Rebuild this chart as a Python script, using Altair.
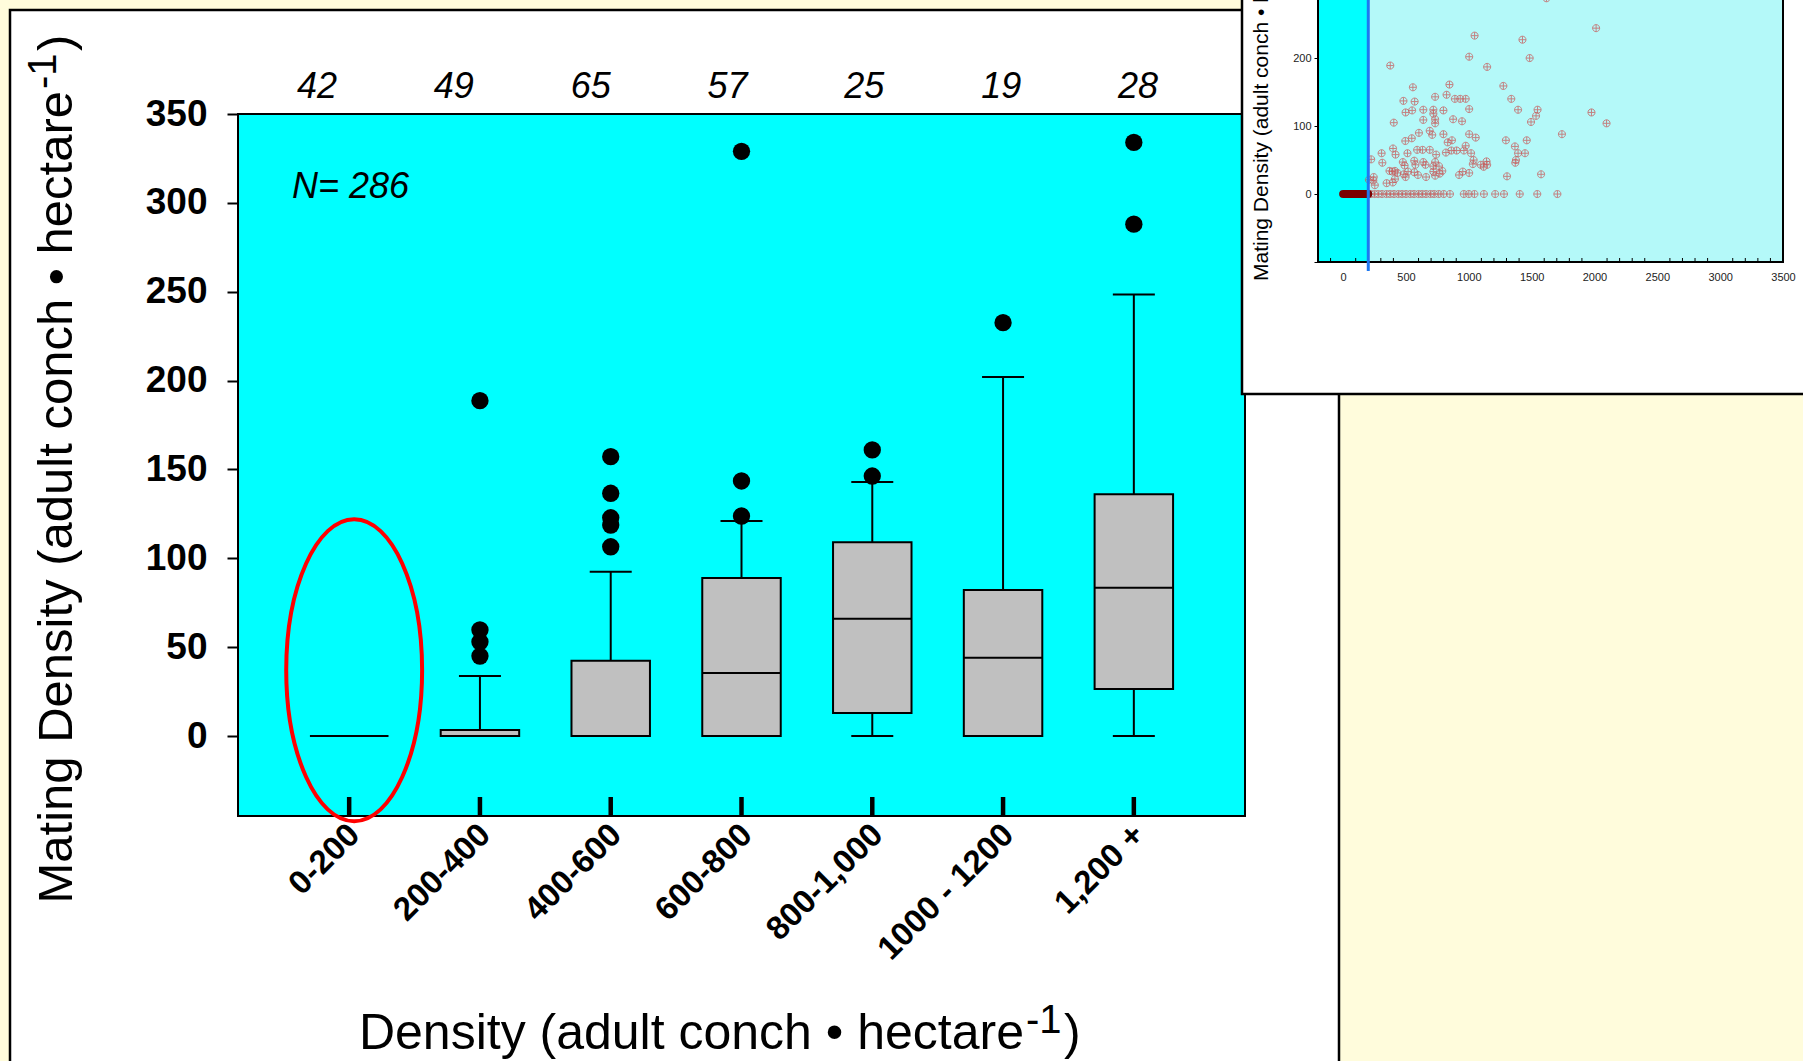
import altair as alt
import pandas as pd

# ---------------- data ----------------
categories = ["0-200", "200-400", "400-600", "600-800", "800-1,000", "1000 - 1200", "1,200 +"]
counts = [42, 49, 65, 57, 25, 19, 28]
q1 = [0, 0, 0, 0, 13, 0, 26.5]
medians = [0, 0, 0, 35.5, 66, 44, 83.5]
q3 = [0, 3.4, 42.4, 88.9, 109, 82.2, 136]
whisker_low = [0, 0, 0, 0, 0, 0, 0]
whisker_high = [0, 33.8, 92.5, 121, 143, 202, 248.5]

outlier_cat = (["200-400"] * 4 + ["400-600"] * 5 + ["600-800"] * 3
               + ["800-1,000"] * 2 + ["1000 - 1200"] + ["1,200 +"] * 2)
outlier_val = [45, 53, 59.7, 188.7,
               106.5, 118.7, 122.8, 136.6, 157.2,
               123.8, 143.5, 329,
               146.3, 161,
               232.6,
               288, 334]

total_n = 286
y_tick_values = [0, 50, 100, 150, 200, 250, 300, 350]
highlight_cat = ["0-200"]
highlight_val = [37]

# inset scatter (density vs mating density)
inset_density = [1618, 2013, 1046, 1427, 1003, 1484, 375, 1146, 846, 1275, 555, 823, 732, 480, 569,
                 889, 932, 975, 1338, 497, 549, 638, 718, 798, 718, 1003, 1392, 1547, 1976, 1535,
                 403, 638, 732, 732, 875, 946, 1495, 2096, 603, 689, 709, 798, 1003, 1741, 495,
                 546, 832, 866, 1055, 1295, 1461, 975, 1367, 397, 589, 632, 689, 818, 861, 903,
                 961, 1018, 306, 417, 512, 740, 1392, 1447, 223, 312, 475, 489, 566, 575, 638,
                 655, 732, 718, 763, 1038, 1032, 1141, 1146, 1118, 1095, 1375, 1370, 369, 392,
                 412, 432, 483, 497, 517, 566, 595, 660, 718, 732, 769, 789, 923, 952, 1003,
                 1304, 1575, 243, 240, 346, 395, 412, 252, 205,
                 220, 250, 280, 310, 345, 375, 405, 440, 470, 500, 535, 565, 600, 630, 660,
                 695, 725, 760, 800, 850, 960, 1000, 1045, 1120, 1210, 1280, 1405, 1545, 1705]
inset_mating = [288, 244, 233, 227, 202, 200, 189, 187, 161, 159, 157, 146, 143, 137, 136,
                140, 140, 140, 140, 120, 123, 124, 124, 123, 118, 125, 124, 124, 120, 115,
                105, 109, 110, 104, 110, 107, 106, 104, 90, 93, 87, 88, 88, 88, 78,
                82, 76, 79, 83, 79, 79, 71, 70, 67, 65, 65, 65, 61, 64, 64,
                64, 60, 60, 58, 60, 58, 60, 60, 51, 46, 47, 42, 49, 43, 47,
                43, 47, 41, 41, 50, 44, 48, 43, 40, 43, 50, 46, 34, 33,
                34, 31, 29, 25, 33, 32, 28, 25, 33, 27, 30, 34, 28, 33, 31,
                26, 29, 25, 20, 16, 17, 22, 13, 21,
                0, 0, 0, 0, 0, 0, 0, 0, 0, 0, 0, 0, 0, 0, 0,
                0, 0, 0, 0, 0, 0, 0, 0, 0, 0, 0, 0, 0, 0]
low_density_range = [0, 200]
threshold = [200]
inset_x_domain = [-200, 3500]
inset_y_domain = [-100, 350]
inset_zone = ["below", "above"]
inset_zone_start = [-200, 200]
inset_zone_end = [200, 3500]
inset_x_ticks = [0, 500, 1000, 1500, 2000, 2500, 3000, 3500]
inset_minor_ticks = [-100, 100, 200, 300, 400, 600, 700, 800, 900, 1100, 1200, 1300, 1400,
                     1600, 1700, 1800, 1900, 2100, 2200, 2300, 2400, 2600, 2700, 2800, 2900,
                     3100, 3200, 3300, 3400]
inset_y_ticks = [-100, 0, 100, 200]

# ---------------- layout / style ----------------
W, H = 1007, 702
FONT = "Liberation Sans"
BG = "#FFFCDC"
ELLIPSE = ("M0,-1C0.2485,-1,0.45,-0.5523,0.45,0C0.45,0.5523,0.2485,1,0,1"
           "C-0.2485,1,-0.45,0.5523,-0.45,0C-0.45,-0.5523,-0.2485,-1,0,-1Z")
PLUSCIRCLE = ("M0,-1C0.5523,-1,1,-0.5523,1,0C1,0.5523,0.5523,1,0,1C-0.5523,1,-1,0.5523,-1,0"
              "C-1,-0.5523,-0.5523,-1,0,-1ZM-1,0L1,0M0,-1L0,1")

box_df = pd.DataFrame(dict(cat=categories, n=counts, q1=q1, med=medians, q3=q3,
                           lo=whisker_low, hi=whisker_high))
out_df = pd.DataFrame(dict(cat=outlier_cat, v=outlier_val))
hl_df = pd.DataFrame(dict(cat=highlight_cat, v=highlight_val))
one = pd.DataFrame({"k": [0]})

x_scale = alt.Scale(domain=categories, paddingInner=0.4, paddingOuter=0.55)
x_axis = alt.Axis(title=None, orient="bottom", labelAngle=-45, labelFont=FONT, labelFontSize=33,
                  labelFontWeight="bold", labelColor="black", ticks=False, tickSize=0,
                  domain=False, labelPadding=2, labelOffset=-6, grid=False, zindex=1)
y_scale = alt.Scale(domain=[-45, 350], nice=False, zero=False)
y_axis = alt.Axis(title=None, orient="left", values=y_tick_values, labelFont=FONT, labelFontSize=37,
                  labelFontWeight="bold", labelColor="black", tickSize=11, tickColor="black",
                  tickWidth=2, labelPadding=20, domain=False, grid=False, zindex=1)


def MX():
    return alt.X("cat:N", sort=categories, scale=x_scale, axis=x_axis)


def MY(f):
    return alt.Y(f"{f}:Q", scale=y_scale, axis=y_axis)


cyan = alt.Chart(one).mark_rect(fill="#00FFFF", stroke="black", strokeWidth=2).encode(
    x=alt.value(0), x2=alt.value(W), y=alt.value(0), y2=alt.value(H))
boxes = alt.Chart(box_df).mark_bar(fill="#C0C0C0", stroke="black", strokeWidth=2).encode(
    x=MX(), y=MY("q1"), y2="q3")
up_wh = alt.Chart(box_df).mark_rule(color="black", strokeWidth=2).encode(x=MX(), y=MY("q3"), y2="hi")
lo_wh = alt.Chart(box_df).mark_rule(color="black", strokeWidth=2).encode(x=MX(), y=MY("lo"), y2="q1")
cap_hi = alt.Chart(box_df).mark_tick(color="black", size=42, thickness=2, opacity=1).encode(x=MX(), y=MY("hi"))
cap_lo = alt.Chart(box_df).mark_tick(color="black", size=42, thickness=2, opacity=1).encode(x=MX(), y=MY("lo"))
med = alt.Chart(box_df).mark_tick(color="black", size=78, thickness=2, opacity=1).encode(x=MX(), y=MY("med"))
outl = alt.Chart(out_df).mark_circle(size=300, color="black", opacity=1).encode(x=MX(), y=MY("v"))
inner_ticks = alt.Chart(box_df).mark_rule(color="black", strokeWidth=4.5).encode(
    x=MX(), y=alt.value(H - 19), y2=alt.value(H))
n_txt = alt.Chart(one).mark_text(text=f"N= {total_n}", font=FONT, fontSize=36, fontStyle="italic",
                                 align="left", baseline="alphabetic", color="black").encode(
    x=alt.value(54), y=alt.value(84))
ellipse = alt.Chart(hl_df).mark_point(shape=ELLIPSE, size=91204, filled=False, color="red",
                                      strokeWidth=4, opacity=1, xOffset=5).encode(x=MX(), y=MY("v"))

main = alt.layer(cyan, boxes, up_wh, lo_wh, cap_hi, cap_lo, med, outl, inner_ticks, n_txt, ellipse)

# sample-size labels above the plot (their own point scale)
count_txt = alt.Chart(box_df).mark_text(font=FONT, fontSize=36, fontStyle="italic", color="black",
                                         baseline="alphabetic").encode(
    x=alt.X("cat:N", sort=categories,
            scale=alt.Scale(type="point", domain=categories, range=[79, 900], padding=0),
            axis=None),
    y=alt.value(-16), text="n:Q")


# ---------------- titles ----------------
def txt(s, x, y, size, align, angle=0):
    return alt.Chart(one).mark_text(text=s, font=FONT, fontSize=size, align=align,
                                    baseline="alphabetic", angle=angle, color="black").encode(
        x=alt.value(x), y=alt.value(y))


xt_main = txt("Density (adult conch \u2022 hectare", 786, 935, 50, "right")
xt_sup = txt("-1", 788, 919, 40, "left")
xt_par = txt(")", 826, 935, 50, "left")
yt_main = txt("Mating Density (adult conch \u2022 hectare", -166, -23, 49, "right", 270)
yt_sup = txt("-1", -182, -25, 40, "left", 270)
yt_par = txt(")", -166, -63, 49, "left", 270)

white_panel = alt.Chart(one).mark_rect(fill="white", stroke="black", strokeWidth=2.5).encode(
    x=alt.value(-228), x2=alt.value(1101), y=alt.value(-104), y2=alt.value(H + 300))
inset_box = alt.Chart(one).mark_rect(fill="white", stroke="black", strokeWidth=2.5).encode(
    x=alt.value(1004), x2=alt.value(1620), y=alt.value(-140), y2=alt.value(280))

# ---------------- inset ----------------
ix_scale = alt.Scale(domain=inset_x_domain, range=[1080, 1545], nice=False, zero=False)
iy_scale = alt.Scale(domain=inset_y_domain, range=[148, -157.9], nice=False, zero=False)
ix_axis = alt.Axis(title=None, orient="bottom", offset=-554, values=inset_x_ticks, format="d",
                   labelFont=FONT, labelFontSize=11, labelColor="#222222", ticks=False, tickSize=0,
                   labelPadding=9, labelFlush=False, domain=False, grid=False, zindex=1)
iy_axis = alt.Axis(title=None, orient="left", offset=-1080, values=inset_y_ticks, format="d",
                   labelExpr="datum.value < 0 ? '' : datum.label", labelFont=FONT, labelFontSize=11,
                   labelColor="#222222", tickSize=4, tickColor="black", tickWidth=1, labelPadding=3,
                   domain=False, grid=False, zindex=1)


def IX(f):
    return alt.X(f"{f}:Q", scale=ix_scale, axis=ix_axis)


def IY(f):
    return alt.Y(f"{f}:Q", scale=iy_scale, axis=iy_axis)


zone_df = pd.DataFrame(dict(s=inset_zone_start, e=inset_zone_end, zone=inset_zone,
                            b=[inset_y_domain[0]] * 2, t=[inset_y_domain[1]] * 2))
frame_df = pd.DataFrame(dict(s=[inset_x_domain[0]], e=[inset_x_domain[1]],
                             b=[inset_y_domain[0]], t=[inset_y_domain[1]]))
sc_df = pd.DataFrame(dict(d=inset_density, m=inset_mating))

zones = alt.Chart(zone_df).mark_rect().encode(
    x=IX("s"), x2="e", y=IY("b"), y2="t",
    color=alt.Color("zone:N", scale=alt.Scale(domain=inset_zone, range=["#00FFFF", "#B4F9F9"]),
                    legend=None))
minor = alt.Chart(pd.DataFrame({"t": inset_minor_ticks})).mark_rule(color="black", strokeWidth=1).encode(
    x=IX("t"), y=alt.value(148), y2=alt.value(144))
scatter = alt.Chart(sc_df).mark_point(shape=PLUSCIRCLE, size=50, filled=False, color="#C85A5A",
                                      strokeWidth=1, opacity=0.75).encode(x=IX("d"), y=IY("m"))
red_line = alt.Chart(pd.DataFrame(dict(a=[low_density_range[0]], b=[low_density_range[1]], m=[0]))).mark_rule(
    color="#7A0000", strokeWidth=8, strokeCap="round").encode(x=IX("a"), x2="b", y=IY("m"))
frame = alt.Chart(frame_df).mark_rect(fillOpacity=0, stroke="black", strokeWidth=2).encode(
    x=IX("s"), x2="e", y=IY("b"), y2="t")
blue = alt.Chart(pd.DataFrame({"t": threshold})).mark_rule(color="#1E78F0", strokeWidth=3).encode(
    x=IX("t"), y=alt.value(-200), y2=alt.value(157))

inset = alt.layer(zones, minor, scatter, red_line, frame, blue)
inset_title = txt("Mating Density (adult conch \u2022 hectare\u207b\u00b9)", 1030, 167, 21, "left", 270)

chart = alt.layer(
    white_panel, main, count_txt, xt_main, xt_sup, xt_par, yt_main, yt_sup, yt_par,
    inset_box, inset, inset_title
).resolve_scale(
    x="independent", y="independent", color="independent"
).properties(
    width=W, height=H,
    padding={"left": 238, "top": 114, "right": 558, "bottom": 245},
    autosize=alt.AutoSizeParams(type="none"),
    background=BG,
).configure_view(stroke="transparent")

chart.save("out.html", embed_options={"renderer": "svg", "actions": False})
